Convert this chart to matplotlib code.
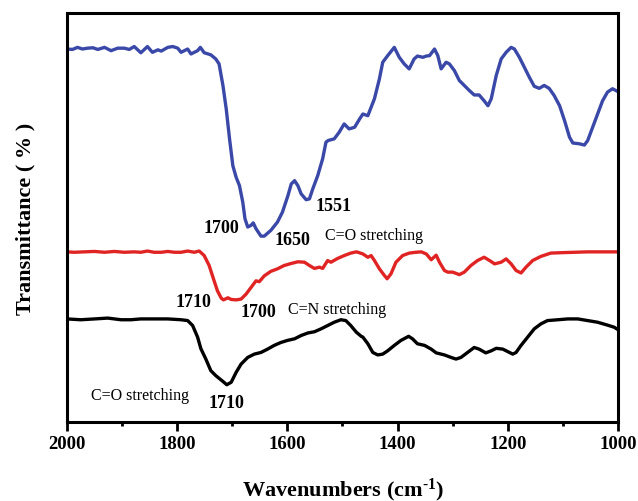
import numpy as np
import matplotlib
matplotlib.use("Agg")
import matplotlib.pyplot as plt

plt.rcParams['font.family'] = ['Liberation Serif', 'DejaVu Serif']
plt.rcParams['mathtext.fontset'] = 'custom'
plt.rcParams['mathtext.rm'] = 'Liberation Serif:bold'
plt.rcParams['mathtext.bf'] = 'Liberation Serif:bold'
plt.rcParams['mathtext.default'] = 'bf'

# top spectrum (blue)
blue_wn = [2000, 1990, 1981, 1972, 1963, 1953, 1944, 1932, 1920, 1908, 1896, 1887, 1878, 1866,
           1854, 1845, 1835, 1829, 1817, 1808, 1799, 1793, 1781, 1775, 1763, 1758, 1751, 1739,
           1730, 1724, 1717, 1711, 1705, 1699, 1693, 1687, 1681, 1677, 1672, 1666, 1662, 1657,
           1648, 1642, 1630, 1618, 1609, 1599, 1593, 1587, 1581, 1575, 1566, 1560, 1554, 1545,
           1536, 1530, 1526, 1515, 1506, 1497, 1488, 1478, 1469, 1463, 1454, 1442, 1433, 1427,
           1418, 1406, 1397, 1388, 1379, 1370, 1364, 1354, 1348, 1342, 1333, 1327, 1321, 1312,
           1306, 1297, 1288, 1279, 1270, 1261, 1252, 1243, 1236, 1230, 1221, 1212, 1203, 1194,
           1188, 1179, 1170, 1161, 1152, 1143, 1134, 1125, 1116, 1106, 1097, 1088, 1082, 1070,
           1061, 1055, 1046, 1037, 1028, 1019, 1010, 1000]
blue_t = [91.3, 91.2, 91.7, 91.3, 91.5, 91.6, 91.2, 91.7, 90.9, 91.5, 91.5, 91.2, 91.9, 90.4,
          91.9, 90.5, 91.1, 90.8, 91.7, 91.9, 91.5, 90.5, 91.3, 90.1, 90.9, 91.7, 90.4, 89.9,
          88.9, 87.7, 82.5, 76.8, 69.6, 63.1, 60.3, 58.3, 54.3, 50.3, 48.3, 48.7, 49.3, 47.9,
          46.1, 46.1, 47.5, 49.5, 51.9, 55.9, 58.7, 59.5, 58.3, 56.3, 54.9, 55.1, 57.5, 60.7,
          64.8, 68.8, 69.2, 69.6, 71.2, 73.2, 72.0, 72.4, 74.4, 75.6, 75.2, 79.3, 84.1, 88.1,
          89.7, 91.7, 89.3, 87.7, 86.5, 88.9, 89.6, 89.3, 89.6, 89.7, 91.3, 89.7, 86.5, 88.1,
          87.7, 86.1, 83.7, 82.5, 81.3, 80.2, 80.2, 78.8, 77.6, 79.3, 84.9, 88.9, 90.5, 91.7,
          91.3, 89.3, 86.9, 84.5, 82.3, 81.8, 82.5, 81.8, 80.1, 77.6, 74.0, 70.0, 68.6, 68.4,
          68.1, 69.2, 72.4, 75.6, 78.8, 80.9, 81.7, 81.0]

# middle spectrum (red)
red_wn = [2000, 1987, 1969, 1950, 1932, 1914, 1896, 1878, 1866, 1854, 1842, 1829, 1817, 1805,
          1793, 1781, 1769, 1760, 1751, 1742, 1733, 1727, 1720, 1716, 1708, 1702, 1693, 1684,
          1675, 1666, 1657, 1651, 1642, 1630, 1618, 1606, 1593, 1581, 1569, 1560, 1551, 1542,
          1536, 1527, 1521, 1509, 1497, 1485, 1475, 1472, 1463, 1454, 1448, 1442, 1433, 1424,
          1419, 1412, 1403, 1391, 1379, 1367, 1357, 1348, 1339, 1330, 1324, 1315, 1309, 1300,
          1288, 1279, 1267, 1255, 1243, 1233, 1224, 1212, 1203, 1194, 1185, 1176, 1167, 1155,
          1140, 1122, 1103, 1079, 1055, 1025, 1000]
red_t = [42.3, 42.2, 42.3, 42.4, 42.2, 42.4, 42.2, 42.3, 42.2, 42.5, 42.2, 42.2, 42.4, 42.2,
         42.2, 42.5, 42.2, 42.5, 41.4, 39.0, 35.3, 32.9, 31.1, 30.7, 31.2, 30.8, 30.7, 30.9,
         32.1, 33.7, 35.3, 35.1, 36.5, 37.6, 38.2, 39.0, 39.5, 39.9, 39.8, 39.0, 38.3, 38.6,
         38.3, 40.2, 39.8, 40.7, 41.4, 42.0, 42.3, 42.2, 41.8, 41.0, 41.4, 40.2, 38.2, 36.6,
         35.8, 37.0, 39.8, 41.4, 42.0, 42.2, 42.3, 41.8, 40.4, 41.5, 39.8, 37.8, 37.4, 37.4,
         36.8, 37.4, 39.0, 40.2, 41.0, 40.2, 39.4, 39.8, 40.6, 39.4, 37.8, 37.2, 38.6, 40.2,
         41.2, 42.0, 42.1, 42.2, 42.3, 42.3, 42.3]

# bottom spectrum (black)
black_wn = [2000, 1975, 1950, 1926, 1902, 1884, 1866, 1842, 1817, 1793, 1781, 1772, 1763, 1757,
            1748, 1739, 1730, 1717, 1710, 1702, 1693, 1684, 1672, 1660, 1648, 1636, 1624, 1612,
            1600, 1587, 1575, 1563, 1551, 1539, 1527, 1515, 1503, 1494, 1485, 1475, 1466, 1463,
            1454, 1445, 1436, 1427, 1418, 1406, 1394, 1380, 1373, 1364, 1351, 1339, 1330, 1315,
            1303, 1294, 1285, 1273, 1261, 1252, 1240, 1230, 1221, 1209, 1200, 1191, 1185, 1176,
            1164, 1152, 1140, 1128, 1109, 1091, 1073, 1055, 1037, 1019, 1007, 1000]
black_t = [26.1, 25.9, 26.1, 26.3, 25.9, 25.9, 26.1, 26.1, 26.1, 25.9, 25.7, 24.5, 21.7, 18.9,
           16.4, 13.6, 12.4, 11.0, 10.2, 10.8, 13.2, 15.2, 16.8, 17.6, 18.0, 18.8, 19.7, 20.4,
           20.9, 21.3, 22.1, 22.7, 23.0, 23.7, 24.5, 25.3, 25.9, 25.7, 24.5, 22.9, 21.9, 21.7,
           20.1, 18.0, 17.4, 17.6, 18.4, 19.7, 20.9, 21.9, 21.3, 20.1, 19.7, 18.8, 17.9, 17.4,
           16.8, 16.4, 16.8, 18.0, 19.2, 18.8, 17.9, 18.4, 19.0, 18.8, 18.2, 17.6, 18.0, 19.7,
           21.7, 23.7, 24.9, 25.7, 25.9, 26.1, 26.1, 25.7, 25.3, 24.6, 24.1, 23.5]

# peak labels: text, wavenumber, transmittance
peak_labels = [("1700", 1720, 48.3), ("1650", 1590, 45.2), ("1551", 1517, 53.4),
               ("1710", 1771, 30.4), ("1700", 1653, 27.8), ("1710", 1711, 6.0)]
band_labels = [("C=O stretching", 1443, 46.4), ("C=N stretching", 1510, 28.5),
               ("C=O stretching", 1867, 7.7)]

fig = plt.figure(figsize=(6.38, 5.02), dpi=100)
ax = fig.add_axes([67 / 638, 79 / 502, 551 / 638, 409 / 502])

ax.plot(blue_wn, blue_t, color='#3a48a8', lw=2.4)
ax.plot(red_wn, red_t, color='#e02424', lw=2.4)
ax.plot(black_wn, black_t, color='black', lw=2.4)

for txt, x, y in peak_labels:
    ax.text(x, y, txt, fontsize=13, fontweight='bold', ha='center', va='center')
for txt, x, y in band_labels:
    ax.text(x, y, txt, fontsize=11.5, ha='center', va='center')

ax.set_xlim(2000, 1000)
ax.set_ylim(1.2, 100)
ax.set_xticks([2000, 1800, 1600, 1400, 1200, 1000])
ax.set_xticks([1900, 1700, 1500, 1300, 1100], minor=True)
ax.set_yticks([])
ax.tick_params(axis='x', which='major', direction='out', length=6.5, width=2, pad=3,
               labelsize=13.5)
ax.tick_params(axis='x', which='minor', direction='out', length=3, width=2)
for lab in ax.get_xticklabels():
    lab.set_fontweight('bold')
for spine in ax.spines.values():
    spine.set_linewidth(2.2)

ax.set_xlabel(r'Wavenumbers (cm$^{\text{-1}}$)', fontsize=16, fontweight='bold', labelpad=17)
ax.set_ylabel('Transmittance ( % )', fontsize=16, fontweight='bold', labelpad=23)

fig.savefig('out.png', dpi=100)
